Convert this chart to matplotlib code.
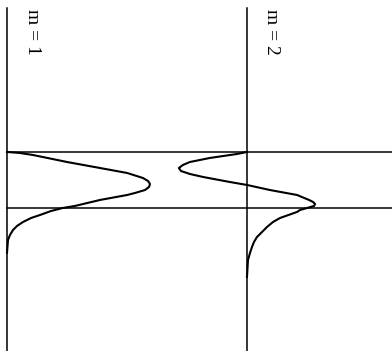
import matplotlib
matplotlib.use("Agg")
import matplotlib.pyplot as plt

# depth z (well width = 1, wall at z=0, step at z=1) and wavefunction psi
z_m1 = [0.0, 0.018, 0.054, 0.179, 0.286, 0.375, 0.464, 0.518, 0.571, 0.625,
        0.679, 0.732, 0.768, 0.857, 0.964, 1.0, 1.054, 1.125, 1.179, 1.25,
        1.321, 1.393, 1.482, 1.571, 1.80]
psi_m1 = [0.0, 0.091, 0.182, 0.42, 0.65, 0.84, 0.95, 0.986, 1.0, 0.993,
          0.965, 0.895, 0.84, 0.65, 0.475, 0.39, 0.308, 0.231, 0.168, 0.112,
          0.07, 0.042, 0.021, 0.007, 0.0]

z_m2 = [0.0, 0.036, 0.107, 0.179, 0.232, 0.286, 0.339, 0.393, 0.446, 0.536,
        0.589, 0.679, 0.768, 0.857, 0.893, 0.929, 0.964, 1.0, 1.036, 1.071,
        1.179, 1.25, 1.339, 1.429, 1.518, 1.607, 1.696, 1.804, 1.929, 2.232]
psi_m2 = [0.0, -0.07, -0.26, -0.399, -0.448, -0.476, -0.462, -0.399, -0.308, -0.12,
          0.0, 0.16, 0.35, 0.434, 0.462, 0.476, 0.469, 0.42, 0.371, 0.35,
          0.231, 0.182, 0.14, 0.105, 0.07, 0.049, 0.035, 0.021, 0.007, 0.0]

offset_m2 = 1.678
labels = ["m = 1", "m = 2"]

fig = plt.figure(figsize=(3.92, 3.51), dpi=100)
ax = fig.add_axes([0, 0, 1, 1])
ax.set_xlim(-0.049, 2.692)
ax.set_ylim(3.554, -2.714)
ax.axis("off")

# baselines
for off in (0.0, offset_m2):
    ax.plot([off, off], [-2.571, 3.554], color="black", lw=1.1)
# well edges
for zz in (0.0, 1.0):
    ax.plot([0.0, 2.692], [zz, zz], color="black", lw=1.1)

ax.plot(psi_m1, z_m1, color="black", lw=1.5, solid_joinstyle="round")
ax.plot([p + offset_m2 for p in psi_m2], z_m2, color="black", lw=1.5,
        solid_joinstyle="round")

for xpos, lab in zip((0.178, 1.85), labels):
    ax.text(xpos, -2.56, lab, rotation=-90, ha="center", va="top",
            fontsize=14, family="Liberation Serif")

fig.savefig("out.png", dpi=100)
